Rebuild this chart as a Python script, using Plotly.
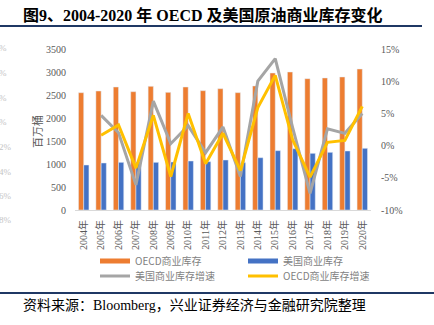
import plotly.graph_objects as go

years = [str(y) + "年" for y in range(2004, 2021)]
oecd_stock = [2550, 2587, 2674, 2572, 2689, 2558, 2674, 2594, 2637, 2551, 2696, 2978, 3000, 2855, 2870, 2892, 3065]
us_stock = [978, 1022, 1036, 1040, 1036, 1043, 1065, 1050, 1087, 1029, 1137, 1290, 1333, 1232, 1254, 1283, 1341]
us_growth = [None, 4.7, 2.0, -6.1, 6.9, 0.3, 3.1, -1.1, 2.9, -4.8, 10.0, 13.5, 2.8, -7.4, 2.6, 1.9, 5.0]
oecd_growth = [None, 1.6, 3.2, -3.5, 4.7, -4.8, 5.0, -2.8, 1.9, -3.9, 5.9, 10.9, 0.9, -4.9, 0.5, 0.8, 6.1]
left_ticks = [0, 500, 1000, 1500, 2000, 2500, 3000, 3500]
right_ticks = [-10, -5, 0, 5, 10, 15]
right_ticktext = ["-10%", "-5%", "0%", "5%", "10%", "15%"]
ghost_labels = ["%", "%", "%", "%", "2%", "4%", "6%", "8%"]

ORANGE = "#ED7D31"
BLUE = "#4472C4"
GRAY = "#A5A5A5"
YELLOW = "#FFC000"
TXT = "#595959"
NAVY = "#1F3864"

W, H = 434, 325
L, R, T, B = 75, 371, 49, 210


def px(x):
    return (x - L) / (R - L)


def py(y):
    return (B - y) / (B - T)


SERIF = "Liberation Serif, Noto Sans CJK SC"
CJK = "Noto Sans CJK SC"

fig = go.Figure()
fig.add_trace(go.Bar(x=years, y=oecd_stock, name="OECD商业库存", marker_color=ORANGE,
                     showlegend=False, yaxis="y"))
fig.add_trace(go.Bar(x=years, y=us_stock, name="美国商业库存", marker_color=BLUE,
                     showlegend=False, yaxis="y"))
# legend entries for the bars (wide bar-like symbols)
fig.add_trace(go.Scatter(x=[None], y=[None], mode="lines", name="OECD商业库存",
                         line=dict(color=ORANGE, width=5), legend="legend"))
fig.add_trace(go.Scatter(x=[None], y=[None], mode="lines", name="美国商业库存",
                         line=dict(color=BLUE, width=5), legend="legend"))
fig.add_trace(go.Scatter(x=years, y=us_growth, name="美国商业库存增速", mode="lines",
                         line=dict(color=GRAY, width=3), yaxis="y2", legend="legend2"))
fig.add_trace(go.Scatter(x=years, y=oecd_growth, name="OECD商业库存增速", mode="lines",
                         line=dict(color=YELLOW, width=3), yaxis="y2", legend="legend2"))

annotations = [
    dict(text="<b>图9、2004-2020 年 OECD 及美国原油商业库存变化</b>", x=px(21), y=py(15),
         xref="paper", yref="paper", xanchor="left", yanchor="middle", showarrow=False,
         font=dict(family="Liberation Serif, Noto Sans CJK SC", size=16, color="#000000")),
    dict(text="百万桶", x=px(37), y=py(132), xref="paper", yref="paper", textangle=-90,
         xanchor="center", yanchor="middle", showarrow=False,
         font=dict(family=CJK, size=11, color=TXT)),
    dict(text="资料来源：Bloomberg，兴业证券经济与金融研究院整理", x=px(21), y=py(305),
         xref="paper", yref="paper", xanchor="left", yanchor="middle", showarrow=False,
         font=dict(family=SERIF, size=14, color="#000000")),
]
ghost_y = [48, 73, 98, 122, 147, 172, 196, 220]
for i, (lab, gy) in enumerate(zip(ghost_labels, ghost_y)):
    annotations.append(dict(text=lab, x=px(-2), y=py(gy), xref="paper", yref="paper",
                            xanchor="left", yanchor="middle", showarrow=False, borderpad=0,
                            font=dict(family=SERIF, size=9, color="#C4C4C4")))

shapes = [
    dict(type="line", xref="paper", yref="paper", x0=px(0), x1=px(422), y0=py(26), y1=py(26),
         line=dict(color=NAVY, width=2)),
    dict(type="line", xref="paper", yref="paper", x0=px(0), x1=px(434), y0=py(293), y1=py(293),
         line=dict(color=NAVY, width=2)),
]

fig.update_layout(
    width=W, height=H,
    margin=dict(l=L, r=W - R, t=T, b=H - B, pad=0),
    paper_bgcolor="white", plot_bgcolor="white",
    barmode="group", bargap=0.4, bargroupgap=0,
    xaxis=dict(type="category", tickangle=-90, showline=True, linecolor="#D9D9D9", linewidth=1,
               showgrid=False, ticks="outside", ticklen=5, tickcolor="rgba(0,0,0,0)",
               tickfont=dict(family=SERIF, size=10, color=TXT), fixedrange=True),
    yaxis=dict(range=[0, 3500], tickvals=left_ticks, showgrid=False, zeroline=False,
               ticks="outside", ticklen=6, tickcolor="rgba(0,0,0,0)",
               tickfont=dict(family=SERIF, size=10, color=TXT)),
    yaxis2=dict(range=[-10, 15], tickvals=right_ticks, ticktext=right_ticktext,
                overlaying="y", side="right", showgrid=False, zeroline=False,
                ticks="outside", ticklen=7, tickcolor="rgba(0,0,0,0)",
                tickfont=dict(family=SERIF, size=10, color=TXT)),
    legend=dict(orientation="h", x=px(95), y=py(261), xanchor="left", yanchor="middle",
                entrywidth=103, entrywidthmode="pixels", bgcolor="rgba(0,0,0,0)",
                font=dict(family=CJK, size=10, color="#7F7F7F"), itemwidth=30),
    legend2=dict(orientation="h", x=px(95), y=py(276), xanchor="left", yanchor="middle",
                 entrywidth=103, entrywidthmode="pixels", bgcolor="rgba(0,0,0,0)",
                 font=dict(family=CJK, size=10, color="#7F7F7F"), itemwidth=30),
    annotations=annotations,
    shapes=shapes,
    showlegend=True,
)

fig.write_html("out.html")
